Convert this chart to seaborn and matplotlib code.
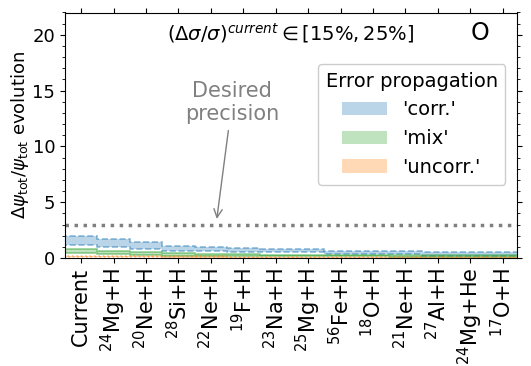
import numpy as np
import matplotlib
matplotlib.use("Agg")
import matplotlib.pyplot as plt
import seaborn as sns
from matplotlib.patches import Patch
from matplotlib.ticker import MultipleLocator

# ---------------- DATA ----------------

reactions = ["Current", "$^{24}$Mg+H", "$^{20}$Ne+H", "$^{28}$Si+H", "$^{22}$Ne+H",
             "$^{19}$F+H", "$^{23}$Na+H", "$^{25}$Mg+H", "$^{56}$Fe+H", "$^{18}$O+H",
             "$^{21}$Ne+H", "$^{27}$Al+H", "$^{24}$Mg+He", "$^{17}$O+H"]

corr_hi = [2.00, 1.67, 1.46, 1.10, 0.99, 0.92, 0.84, 0.78, 0.66, 0.65, 0.64, 0.52, 0.51, 0.50]
corr_lo = [1.18, 0.98, 0.81, 0.66, 0.62, 0.57, 0.52, 0.50, 0.34, 0.33, 0.32, 0.22, 0.21, 0.21]
mix_hi = [0.80, 0.63, 0.51, 0.42, 0.34, 0.32, 0.30, 0.29, 0.28, 0.27, 0.27, 0.26, 0.25, 0.25]
mix_lo = [0.42, 0.34, 0.28, 0.22, 0.18, 0.17, 0.16, 0.15, 0.14, 0.14, 0.13, 0.13, 0.12, 0.12]
unc_hi = [0.21, 0.18, 0.16, 0.15, 0.14, 0.13, 0.13, 0.12, 0.12, 0.12, 0.11, 0.11, 0.11, 0.11]
unc_lo = [0.06, 0.05, 0.05, 0.04, 0.04, 0.04, 0.04, 0.03, 0.03, 0.03, 0.03, 0.03, 0.03, 0.03]

band_names = ["'corr.'", "'mix'", "'uncorr.'"]
desired_precision = 3.0

# ---------------- STYLE ----------------

sns.set_style("ticks", {"text.color": "black", "axes.labelcolor": "black",
                        "xtick.color": "black", "ytick.color": "black",
                        "axes.edgecolor": "black"})
pal = sns.color_palette("tab10")
colors = [pal[0], pal[2], pal[1]]
edge_styles = ["--", "-", ":"]

fig = plt.figure(figsize=(5.31, 3.66), dpi=100)
ax = fig.add_axes([65 / 531, 1 - 258 / 366, 452 / 531, 245.5 / 366])

edges = np.arange(len(reactions) + 1) - 0.5
bands = [(corr_lo, corr_hi), (mix_lo, mix_hi), (unc_lo, unc_hi)]

for (lo, hi), c, ls in zip(bands, colors, edge_styles):
    ax.stairs(hi, edges, baseline=lo, fill=True, color=c, alpha=0.3, lw=0)
    ax.stairs(hi, edges, color=c, alpha=0.5, ls=ls, lw=1.2)
    ax.stairs(lo, edges, color=c, alpha=0.5, ls=ls, lw=1.2)

ax.axhline(desired_precision, color="gray", ls=(0, (1, 1.6)), lw=2.5)
ax.annotate("Desired\nprecision", xy=(4.17, 3.25), xytext=(4.65, 13.9),
            ha="center", va="center", color="gray", fontsize=15,
            arrowprops=dict(arrowstyle="->", color="gray", lw=1, shrinkA=2))

ax.text(0.499, 0.915, r"$(\Delta\sigma/\sigma)^{current} \in [15\%, 25\%]$",
        transform=ax.transAxes, ha="center", va="center", fontsize=14)
ax.text(0.918, 0.915, "O", transform=ax.transAxes, ha="center", va="center", fontsize=17)

ax.set_xlim(-0.5, 13.44)
ax.set_ylim(0, 22)
ax.set_xticks(range(len(reactions)))
ax.set_xticklabels(reactions, rotation=90, fontsize=15)
ax.yaxis.set_major_locator(MultipleLocator(5))
ax.yaxis.set_minor_locator(MultipleLocator(1))
ax.tick_params(axis="y", labelsize=13)
ax.tick_params(which="major", length=3.5, width=0.8, direction="out")
ax.tick_params(which="minor", length=2.2, width=0.6, direction="out")
ax.tick_params(axis="x", which="both", top=True)
ax.tick_params(axis="y", which="both", right=True)
ax.set_ylabel(r"$\Delta\psi_{\rm tot}/\psi_{\rm tot}$ evolution", fontsize=13, labelpad=1)

handles = [Patch(facecolor=c, alpha=0.3, edgecolor="none") for c in colors]
ax.legend(handles, band_names, title="Error propagation", loc="upper right",
          bbox_to_anchor=(0.996, 0.83), fontsize=14, title_fontsize=14,
          handlelength=2.3, framealpha=1)

fig.savefig("out.png", dpi=100)
